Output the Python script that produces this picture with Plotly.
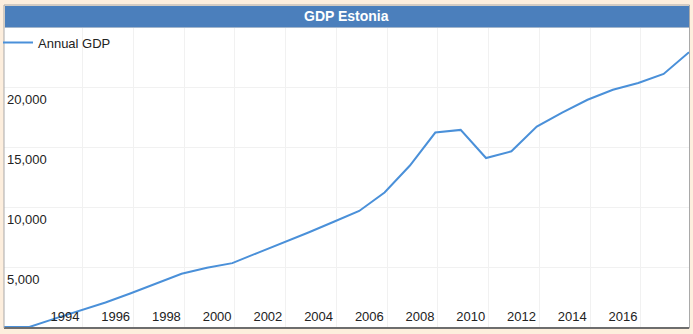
import plotly.graph_objects as go

# ---- data ----
years = list(range(1992, 2020))
gdp = [0, 0, 700, 1400, 2050, 2820, 3640, 4450, 4950, 5340, 6200, 7040, 7900,
       8800, 9700, 11250, 13500, 16260, 16480, 14130, 14690, 16760, 17930,
       19000, 19840, 20400, 21160, 22970]
x_tick_labels = [str(y) for y in range(1994, 2017, 2)]
y_tick_values = [5000, 10000, 15000, 20000]
y_tick_labels = ["5,000", "10,000", "15,000", "20,000"]

# ---- layout geometry ----
W, H = 693, 334
ML, MR, MT, MB = 4, 4, 28, 7
PW, PH = W - ML - MR, H - MT - MB

def py(pix):  # page pixel y -> paper y
    return (H - MB - pix) / PH

def px(pix):  # page pixel x -> paper x
    return (pix - ML) / PW

label_pos = [int(t) + 0.40 for t in x_tick_labels]
grid_pos = [y + 0.1 for y in range(1993, 2019, 2)]

line_color = "#4a90d9"
bar_color = "#4b7fbc"
bg = "#fdeedd"

fig = go.Figure()
fig.add_trace(go.Scatter(
    x=years, y=gdp, mode="lines", name="Annual GDP",
    line=dict(color=line_color, width=2),
))

fig.update_layout(
    width=W, height=H,
    margin=dict(l=ML, r=MR, t=MT, b=MB, pad=0, autoexpand=False),
    paper_bgcolor=bg, plot_bgcolor="white",
    font=dict(family="Liberation Sans, Arial, sans-serif", size=13, color="#222"),
    showlegend=True,
    legend=dict(x=px(-2), y=py(27.5), xanchor="left", yanchor="top",
                bgcolor="rgba(0,0,0,0)", font=dict(size=13, color="#222"),
                borderwidth=0, itemwidth=30),
    xaxis=dict(
        range=[years[0], years[-1]],
        tickmode="array", tickvals=label_pos, ticktext=x_tick_labels,
        ticklabelposition="inside", ticks="", showgrid=False,
        ticklabelstandoff=3,
        showline=True, linecolor="#333", linewidth=1.5,
        zeroline=False, fixedrange=True, automargin=False,
        tickfont=dict(size=13, color="#222"),
        minor=dict(tickmode="array", tickvals=grid_pos, showgrid=True,
                   gridcolor="#f1f1f1", gridwidth=1, ticks=""),
    ),
    yaxis=dict(
        range=[0, 25000],
        tickmode="array", tickvals=y_tick_values, ticktext=y_tick_labels,
        ticklabelposition="inside bottom", ticks="",
        ticklabelshift=3, automargin=False,
        showgrid=True, gridcolor="#f1f1f1", gridwidth=1,
        zeroline=False, showline=False,
        tickfont=dict(size=13, color="#222"),
    ),
)

# frame border
fig.add_shape(type="rect", xref="paper", yref="paper",
              x0=px(4), x1=px(689.5), y0=py(328), y1=py(5),
              line=dict(color="#a9a9a9", width=1), fillcolor="rgba(0,0,0,0)",
              layer="above")
# title bar
fig.add_shape(type="rect", xref="paper", yref="paper",
              x0=px(5), x1=px(689), y0=py(27.5), y1=py(6),
              line=dict(width=0), fillcolor=bar_color, layer="above")
fig.add_annotation(text="<b>GDP Estonia</b>", xref="paper", yref="paper",
                   x=px(346), y=py(16.5), showarrow=False,
                   xanchor="center", yanchor="middle",
                   font=dict(size=14, color="white",
                             family="Liberation Sans, Arial, sans-serif"))

fig.write_html("out.html")
